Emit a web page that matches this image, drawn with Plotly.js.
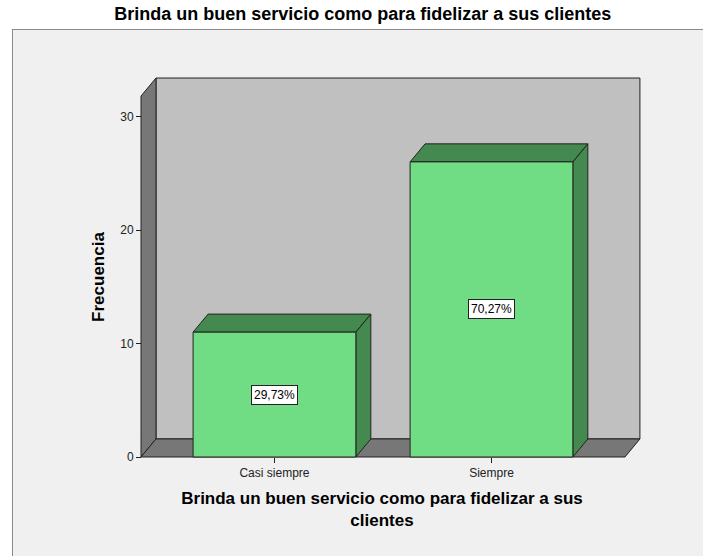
<!DOCTYPE html>
<html>
<head>
<meta charset="utf-8">
<script src="https://cdn.plot.ly/plotly-3.0.1.min.js"></script>
<style>
  html, body { margin: 0; padding: 0; width: 703px; height: 556px; overflow: hidden; background: #ffffff; }
  #frame { position: absolute; left: 12px; top: 29px; width: 720px; height: 560px; background: #f0f0f0; border: 1px solid #8a8a8a; }
  #chart { position: absolute; left: 0; top: 0; width: 703px; height: 556px; }
</style>
</head>
<body>
<div id="frame"></div>
<div id="chart"></div>
<script>
// ---- data ----
const categories = ['Casi siempre', 'Siempre'];
const frequencies = [11, 26];
const yTickValues = [0, 10, 20, 30];
const chartTitle = 'Brinda un buen servicio como para fidelizar a sus clientes';
const xTitle = 'Brinda un buen servicio como para fidelizar a sus<br>clientes';
const yTitle = 'Frecuencia';

// ---- style / geometry ----
const FONT = 'Liberation Sans, Arial, sans-serif';
const frontColor = '#70dc84';
const darkColor = '#44894f';
const backWall = '#c0c0c0';
const sideWall = '#777777';
const edge = '#222222';
const barWidth = 0.75;
const depthX = 0.069;   // depth offset in category units
const depthY = 1.59;    // depth offset in value units
const xMin = -0.615, xMax = 1.615;
const wallTop = 31.8;
const xRange = [-0.698, 1.689];
const yRange = [-1.762, 33.48];

const total = frequencies.reduce((a, b) => a + b, 0);
const xIdx = categories.map((c, i) => i);
const pctLabels = frequencies.map(v => (v / total * 100).toFixed(2).replace('.', ',') + '%');

const shapes = [];
// back wall
shapes.push({type: 'rect', xref: 'x', yref: 'y', layer: 'below',
  x0: xMin + depthX, x1: xMax + depthX, y0: depthY, y1: wallTop + depthY,
  fillcolor: backWall, line: {color: edge, width: 1}});
// left wall
shapes.push({type: 'path', xref: 'x', yref: 'y', layer: 'below',
  path: `M ${xMin},0 L ${xMin},${wallTop} L ${xMin + depthX},${wallTop + depthY} L ${xMin + depthX},${depthY} Z`,
  fillcolor: sideWall, line: {color: edge, width: 1}});
// floor
shapes.push({type: 'path', xref: 'x', yref: 'y', layer: 'below',
  path: `M ${xMin},0 L ${xMax},0 L ${xMax + depthX},${depthY} L ${xMin + depthX},${depthY} Z`,
  fillcolor: sideWall, line: {color: edge, width: 1}});
// bar top and side faces
xIdx.forEach((x, i) => {
  const v = frequencies[i];
  const l = x - barWidth / 2, r = x + barWidth / 2;
  shapes.push({type: 'path', xref: 'x', yref: 'y', layer: 'below',
    path: `M ${l},${v} L ${l + depthX},${v + depthY} L ${r + depthX},${v + depthY} L ${r},${v} Z`,
    fillcolor: darkColor, line: {color: edge, width: 1}});
  shapes.push({type: 'path', xref: 'x', yref: 'y', layer: 'below',
    path: `M ${r},0 L ${r},${v} L ${r + depthX},${v + depthY} L ${r + depthX},${depthY} Z`,
    fillcolor: darkColor, line: {color: edge, width: 1}});
});

const annotations = xIdx.map((x, i) => ({
  x: x, y: frequencies[i] / 2, xref: 'x', yref: 'y',
  text: pctLabels[i], showarrow: false,
  font: {family: FONT, size: 12, color: '#000'},
  bgcolor: '#ffffff', bordercolor: edge, borderwidth: 1, borderpad: 2
}));

const trace = {
  type: 'bar', x: xIdx, y: frequencies, width: barWidth,
  marker: {color: frontColor, line: {color: edge, width: 1}},
  hoverinfo: 'skip'
};

// positions of the front axes inside the (slightly enlarged) plotting area
const xAxisPos = (0 - yRange[0]) / (yRange[1] - yRange[0]);
const yAxisPos = (xMin - xRange[0]) / (xRange[1] - xRange[0]);

const layout = {
  width: 703, height: 556,
  margin: {l: 123, r: 62, t: 77, b: 79},
  paper_bgcolor: 'rgba(0,0,0,0)',
  plot_bgcolor: 'rgba(0,0,0,0)',
  showlegend: false,
  title: {text: chartTitle, font: {family: FONT, size: 18, color: '#000', weight: 'bold'},
    xref: 'container', x: 0.516, xanchor: 'center', yref: 'container', y: 0.975, yanchor: 'middle'},
  xaxis: {
    range: xRange, anchor: 'free', position: xAxisPos,
    tickmode: 'array', tickvals: xIdx, ticktext: categories,
    ticks: 'outside', ticklen: 5, tickcolor: edge, tickwidth: 1,
    showgrid: false, zeroline: false, showline: false,
    tickfont: {family: FONT, size: 12, color: '#222'},
    title: {text: xTitle, font: {family: FONT, size: 17, color: '#000', weight: 'bold'}, standoff: 12}
  },
  yaxis: {
    range: yRange, anchor: 'free', position: yAxisPos,
    tickmode: 'array', tickvals: yTickValues,
    ticks: 'outside', ticklen: 5, tickcolor: edge, tickwidth: 1,
    showgrid: false, zeroline: false, showline: false,
    tickfont: {family: FONT, size: 12, color: '#222'},
    title: {text: yTitle, font: {family: FONT, size: 17, color: '#000', weight: 'bold'}, standoff: 10}
  },
  shapes: shapes,
  annotations: annotations
};

Plotly.newPlot('chart', [trace], layout, {displayModeBar: false, staticPlot: true});
</script>
</body>
</html>
